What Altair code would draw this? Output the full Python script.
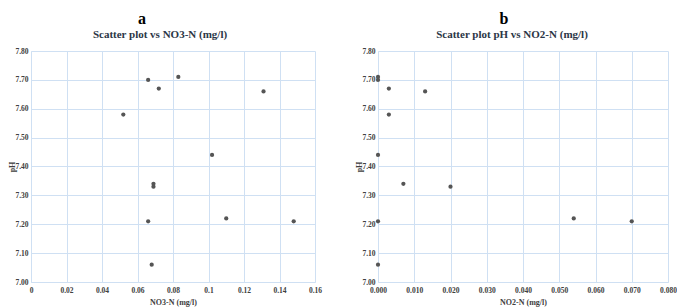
import altair as alt
import pandas as pd

ph = [7.58, 7.70, 7.67, 7.71, 7.66, 7.44, 7.34, 7.33, 7.21, 7.22, 7.21, 7.06]
no3 = [0.052, 0.066, 0.072, 0.083, 0.131, 0.102, 0.069, 0.069, 0.066, 0.110, 0.148, 0.068]
no2 = [0.003, 0.000, 0.003, 0.000, 0.013, 0.000, 0.007, 0.020, 0.000, 0.054, 0.070, 0.000]

x_ticks_a = [0, 0.02, 0.04, 0.06, 0.08, 0.10, 0.12, 0.14, 0.16]
x_ticks_b = [0, 0.01, 0.02, 0.03, 0.04, 0.05, 0.06, 0.07, 0.08]
y_ticks = [7.0, 7.1, 7.2, 7.3, 7.4, 7.5, 7.6, 7.7, 7.8]

df = pd.DataFrame({"pH": ph, "NO3": no3, "NO2": no2})

FONT = "Liberation Serif"
GRID = "#cfe0f3"
LABEL = "#404040"
PT = "#555555"


def y_enc():
    return alt.Y(
        "pH:Q",
        scale=alt.Scale(domain=[7.0, 7.8], nice=False, zero=False),
        axis=alt.Axis(values=y_ticks, format=".2f", title="pH", titlePadding=-2,
                      labelPadding=3, labelFlush=False),
    )


def panel(field, ticks, dom, fmt, xtitle, title, letter, w, letter_x, letter_y, title_x):
    pts = alt.Chart(df).mark_circle(size=18, color=PT, opacity=1).encode(
        x=alt.X(
            f"{field}:Q",
            scale=alt.Scale(domain=dom, nice=False, zero=False),
            axis=alt.Axis(values=ticks, format=fmt, title=xtitle, labelPadding=4,
                          titlePadding=5, labelFlush=False),
        ),
        y=y_enc(),
    )
    lab = alt.Chart(pd.DataFrame({"t": [letter]})).mark_text(
        font=FONT, fontSize=16, fontWeight="bold", color="#000000",
        align="center", baseline="alphabetic",
    ).encode(text="t:N", x=alt.value(letter_x), y=alt.value(letter_y))
    ttl = alt.Chart(pd.DataFrame({"t": [title]})).mark_text(
        font=FONT, fontSize=11, fontWeight="bold", color="#2b3646",
        align="center", baseline="alphabetic",
    ).encode(text="t:N", x=alt.value(title_x), y=alt.value(-13))
    return alt.layer(pts, lab, ttl).properties(width=w, height=231)


left = panel("NO3", x_ticks_a, [0, 0.16], "~g", "NO3-N (mg/l)",
             "Scatter plot vs NO3-N (mg/l)", "a", 284, 111, -27, 129)
right = panel("NO2", x_ticks_b, [0, 0.08], ".3f", "NO2-N (mg/l)",
              "Scatter plot pH vs NO2-N (mg/l)", "b", 290, 126, -27, 134)

chart = alt.hconcat(left, right, spacing=33).properties(
    padding={"left": 0, "top": 3, "right": 0, "bottom": 0}
).configure_view(stroke=None).configure_axis(
    grid=True, gridColor=GRID, gridWidth=1, domainColor=GRID, domainWidth=1,
    ticks=False, labelFont=FONT, labelFontSize=7.5, labelFontWeight="bold",
    labelColor=LABEL, titleFont=FONT, titleFontSize=8, titleFontWeight="bold",
    titleColor=LABEL,
)

chart.save("out.html", embed_options={"renderer": "svg", "actions": False})
